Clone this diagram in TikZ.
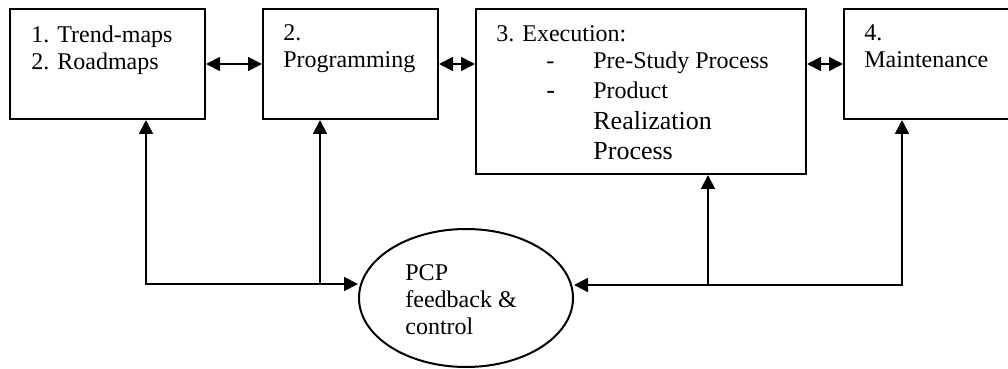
\documentclass[tikz,border=0pt]{standalone}
\usepackage{fontspec}
\setmainfont{Liberation Serif}
\usepackage{tikz}
\usetikzlibrary{arrows.meta,shapes.geometric}

\begin{document}
\begin{tikzpicture}[x=0.5pt,y=-0.5pt,box/.style={draw,line width=1pt,rectangle,inner sep=0pt,anchor=north west},txt/.style={inner sep=0pt,anchor=north west,align=left,font=\fontsize{12}{13.5}\selectfont},conn/.style={line width=0.9pt,{Triangle[length=7pt,width=7pt]}-{Triangle[length=7pt,width=7pt]}}]
\useasboundingbox (0,0) rectangle (1008,369);
\node[box,minimum width=97.5pt,minimum height=55pt] (plan) at (9,8) {};
\node[box,minimum width=87.5pt,minimum height=55pt] (prog) at (262,8) {};
\node[box,minimum width=165pt,minimum height=82.5pt] (exec) at (475,8) {};
\node[box,minimum width=84.5pt,minimum height=55pt] (maint) at (843,8) {};
\node[draw,ellipse,line width=1pt,inner sep=0pt,minimum width=107pt,minimum height=69pt] (pcp) at (466,298) {};
\node[txt] (plantxt) at (31,25) {1. Trend-maps\\2. Roadmaps};
\node[txt] (progtxt) at (283,24) {2.\\Programming};
\node[txt] (exectxt) at (496,25) {3. Execution:\\
   \hspace*{25pt}\makebox[23.5pt][l]{-}Pre-Study Process\\[1.5pt]
   \hspace*{25pt}\makebox[23.5pt][l]{\fontsize{13}{15}\selectfont -}Product\\[2pt]
   \hspace*{48.5pt}{\fontsize{13}{15}\selectfont Realization}\\[1.5pt]
   \hspace*{48.5pt}{\fontsize{13}{15}\selectfont Process}};
\node[txt] (mainttxt) at (864,24) {4.\\Maintenance};
\node[txt] (pcptxt) at (405,264) {PCP\\feedback \&\\control};
\draw[conn] (plan.east) -- (prog.west);
\draw[conn] (prog.east) -- (prog.east -| exec.west);
\draw[conn] (exec.east |- maint.west) -- (maint.west);
\coordinate (fl) at (146,284);
\coordinate (fm) at (320,284);
\coordinate (fe) at (708,285);
\coordinate (fr) at (902,285);
\draw[conn] (plan.south -| fl) -- (fl) -- (pcp.west |- fl);
\draw[conn,{Triangle[length=7pt,width=7pt]}-] (prog.south -| fm) -- (fm);
\draw[conn] (maint.south -| fr) -- (fr) -- (pcp.east |- fr);
\draw[conn,{Triangle[length=7pt,width=7pt]}-] (exec.south -| fe) -- (fe);
\end{tikzpicture}
\end{document}
